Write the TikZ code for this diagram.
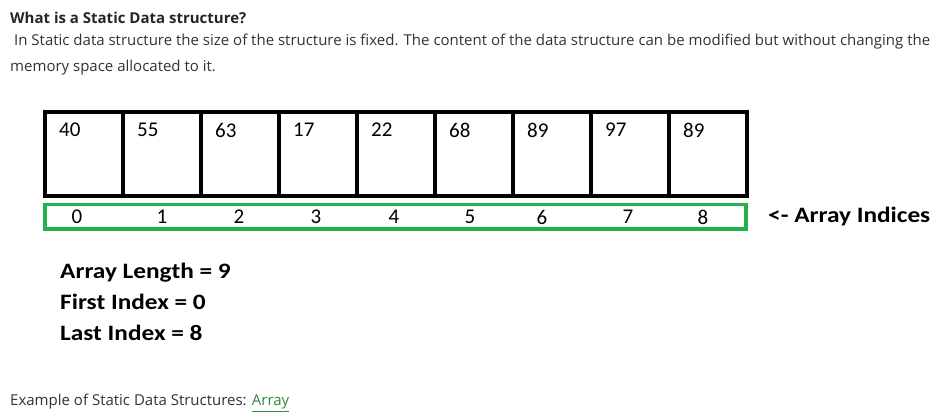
\documentclass[tikz,border=0pt]{standalone}
\usepackage{fontspec}
\setmainfont{Open Sans}
\newfontfamily\calib{Carlito}
\usepackage{xcolor}
\definecolor{webtext}{HTML}{333333}
\definecolor{idxgreen}{HTML}{22B14C}
\definecolor{linkgreen}{HTML}{2E8B3E}
\begin{document}
\begin{tikzpicture}[x=1pt,y=-1pt]
	\tikzstyle{cell}=[draw=black,line width=4pt]
	\tikzstyle{val}=[anchor=west,inner sep=0pt,font=\calib\fontsize{21}{24}\selectfont]
	\tikzstyle{idx}=[inner sep=0pt,font=\calib\fontsize{21}{24}\selectfont]
	\tikzstyle{web}=[anchor=west,inner sep=0pt,text=webtext,font=\fontsize{15}{18}\selectfont]
	\tikzstyle{info}=[anchor=west,inner sep=0pt,xscale=1.15,font=\calib\bfseries\fontsize{22}{26}\selectfont]

	\useasboundingbox[fill=white] (0,0) rectangle (948,419);

	% heading and text
	\node [web,font=\bfseries\fontsize{15}{18}\selectfont,text=black!85] (title) at (10,18) {What is a Static Data structure?};
	\node [web] (line1) at (14,42) {In Static data structure the size of the structure is fixed. The content of the data structure can be modified but without changing the};
	\node [web] (line2) at (10,68) {memory space allocated to it.};

	% the array
	\foreach \v [count=\i from 0] in {40,55,63,17,22,68,89,97,89} {
		\draw [cell] (45+78*\i,112) rectangle (123+78*\i,196);
		\node [val] (v\i) at (59+78*\i,130) {\v};
	}
	\draw [draw=idxgreen,line width=3.5pt] (45,204.5) rectangle (746,229);
	\foreach \x [count=\i from 0] in {77,162,239,316,394,470,542,628,703}
		\node [idx] (i\i) at (\x,217) {\i};
	\node [info] (ind) at (768,217) {<- Array Indices};

	% summary
	\node [info] (len) at (60,273) {Array Length = 9};
	\node [info] (first) at (60,302) {First Index = 0};
	\node [info] (last) at (60,333) {Last Index = 8};

	\node [web] (ex) at (10,403) {Example of Static Data Structures: \textcolor{linkgreen}{\underline{Array}}};
\end{tikzpicture}
\end{document}
